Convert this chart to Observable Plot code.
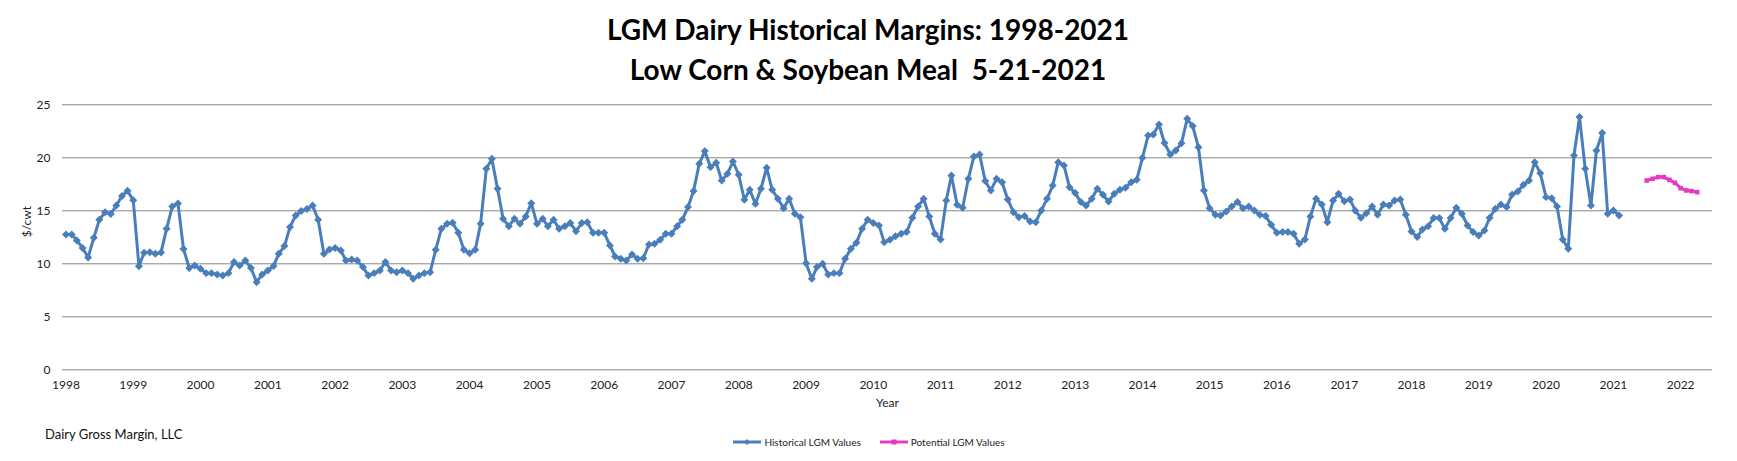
<!DOCTYPE html>
<html>
<head>
<meta charset="utf-8">
<script src="https://cdn.jsdelivr.net/npm/d3@7"></script>
<script src="https://cdn.jsdelivr.net/npm/@observablehq/plot@0.6"></script>
<style>
  html, body { margin: 0; padding: 0; background: #fff; }
  body { width: 1737px; height: 461px; position: relative; overflow: hidden; font-family: Lato, "DejaVu Sans", sans-serif; }
  #title { position: absolute; top: 9px; left: 0; width: 1736px; text-align: center; font-weight: bold; font-size: 28px; line-height: 40px; color: #000; }
  #chart { position: absolute; top: 84px; left: 0; }
  #footer { position: absolute; left: 45px; top: 426px; font-size: 13px; color: #111; }
  #legend { position: absolute; top: 436px; left: 0; width: 1737px; display: flex; justify-content: center; gap: 18px; font-size: 10px; color: #222; padding-left: 0px; }
  .item { display: flex; align-items: center; gap: 2px; }
</style>
</head>
<body>
<div id="title">LGM Dairy Historical Margins: 1998-2021<br>Low Corn &amp; Soybean Meal&nbsp; 5-21-2021</div>
<div id="chart"></div>
<div id="footer">Dairy Gross Margin, LLC</div>
<div id="legend"></div>
<script>
// ---- data ----
const historicalStart = "1998-01-01";
const historical = [
  12.77, 12.77, 12.2, 11.5, 10.6, 12.45, 14.15, 14.87, 14.7, 15.5, 16.4, 16.9,   // 1998
  16.0, 9.78, 11.04, 11.1, 10.94, 11.07, 13.3, 15.4, 15.7, 11.4, 9.6, 9.84,      // 1999
  9.53, 9.12, 9.12, 9.0, 8.9, 9.12, 10.16, 9.84, 10.3, 9.6, 8.27, 9.0,           // 2000
  9.37, 9.8, 10.94, 11.67, 13.46, 14.56, 14.97, 15.16, 15.5, 14.15, 10.94, 11.35, // 2001
  11.5, 11.26, 10.3, 10.4, 10.3, 9.69, 8.9, 9.12, 9.37, 10.16, 9.37, 9.2,        // 2002
  9.37, 9.12, 8.58, 8.9, 9.12, 9.2, 11.32, 13.3, 13.77, 13.87, 12.92, 11.32,     // 2003
  11.0, 11.32, 13.77, 18.96, 19.9, 17.07, 14.25, 13.55, 14.25, 13.77, 14.47, 15.72, // 2004
  13.77, 14.25, 13.55, 14.15, 13.3, 13.55, 13.84, 13.08, 13.84, 13.93, 12.92, 12.92, // 2005
  12.92, 11.73, 10.69, 10.47, 10.31, 10.88, 10.47, 10.53, 11.82, 11.89, 12.26, 12.83, // 2006
  12.83, 13.55, 14.15, 15.35, 16.86, 19.43, 20.63, 19.12, 19.53, 17.86, 18.49, 19.65, // 2007
  18.4, 16.04, 16.98, 15.66, 17.08, 19.06, 16.98, 16.13, 15.25, 16.13, 14.72, 14.4,   // 2008
  10.06, 8.58, 9.69, 10.0, 9.0, 9.12, 9.12, 10.47, 11.42, 11.98, 13.3, 14.15,        // 2009
  13.84, 13.62, 12.04, 12.26, 12.61, 12.83, 12.99, 14.34, 15.41, 16.13, 14.47, 12.83, // 2010
  12.3, 15.97, 18.33, 15.57, 15.28, 18.02, 20.13, 20.31, 17.8, 16.92, 18.02, 17.7,    // 2011
  16.07, 14.87, 14.4, 14.5, 13.99, 13.93, 15.03, 16.13, 17.39, 19.59, 19.28, 17.23,   // 2012
  16.67, 15.82, 15.5, 16.13, 17.08, 16.51, 15.88, 16.6, 16.98, 17.17, 17.7, 17.92,    // 2013
  20.0, 22.1, 22.2, 23.14, 21.4, 20.31, 20.69, 21.38, 23.68, 22.99, 21.0, 16.92,      // 2014
  15.25, 14.62, 14.56, 14.94, 15.41, 15.82, 15.25, 15.41, 15.03, 14.62, 14.5, 13.68,  // 2015
  12.92, 12.99, 12.99, 12.83, 11.89, 12.3, 14.47, 16.13, 15.6, 13.93, 15.97, 16.6,    // 2016
  15.91, 16.07, 15.03, 14.34, 14.78, 15.41, 14.62, 15.6, 15.5, 15.97, 16.07, 14.62,   // 2017
  13.05, 12.52, 13.24, 13.55, 14.31, 14.31, 13.3, 14.31, 15.28, 14.72, 13.62, 12.99,  // 2018
  12.67, 13.14, 14.34, 15.19, 15.6, 15.35, 16.54, 16.82, 17.45, 17.86, 19.59, 18.55,  // 2019
  16.29, 16.19, 15.41, 12.3, 11.42, 20.22, 23.84, 18.96, 15.5, 20.69, 22.33, 14.72,   // 2020
  15.03, 14.56                                                                        // 2021
];
const potentialStart = "2021-07-01";
const potential = [17.86, 18.02, 18.18, 18.18, 17.92, 17.64, 17.14, 16.92, 16.86, 16.76];

const seriesNames = ["Historical LGM Values", "Potential LGM Values"];
const seriesColors = ["#4A7EBB", "#E23CC4"];
const yearTicks = d3.range(1998, 2023);
const yTicks = [0, 5, 10, 15, 20, 25];

// ---- build tables ----
const histData = historical.map((v, i) => ({date: d3.utcMonth.offset(new Date(historicalStart), i), value: v}));
const potData = potential.map((v, i) => ({date: d3.utcMonth.offset(new Date(potentialStart), i), value: v}));
const xTickDates = yearTicks.map(y => new Date(Date.UTC(y, 0, 1)));

const chart = Plot.plot({
  width: 1737,
  height: 337,
  marginLeft: 62,
  marginRight: 25,
  marginTop: 20.3,
  marginBottom: 51.7,
  style: {fontFamily: "Lato, sans-serif", fontSize: "12px", color: "#222", background: "white"},
  x: {type: "utc", domain: [new Date(Date.UTC(1997, 11, 13)), new Date(Date.UTC(2022, 5, 23))]},
  y: {domain: [0, 25]},
  marks: [
    Plot.gridY(yTicks, {stroke: "#868686", strokeOpacity: 1, strokeWidth: 1}),
    Plot.axisY({ticks: yTicks, tickSize: 0, tickPadding: 12, label: null}),
    Plot.axisX({ticks: xTickDates, tickFormat: d => String(d.getUTCFullYear()), tickSize: 0, tickPadding: 11, label: null}),
    Plot.text(["$/cwt"], {frameAnchor: "left", dx: -35, rotate: -90, fontSize: 12, fill: "#222"}),
    Plot.text(["Year"], {frameAnchor: "bottom", dy: 37.5, fontSize: 12, fill: "#222"}),
    Plot.line(histData, {x: "date", y: "value", stroke: seriesColors[0], strokeWidth: 3}),
    Plot.dot(histData, {x: "date", y: "value", symbol: "diamond2", r: 3.6, fill: seriesColors[0], stroke: "none"}),
    Plot.line(potData, {x: "date", y: "value", stroke: seriesColors[1], strokeWidth: 3}),
    Plot.dot(potData, {x: "date", y: "value", symbol: "square", r: 2.6, fill: seriesColors[1], stroke: "none"})
  ]
});
document.getElementById("chart").appendChild(chart);

// ---- legend ----
const legend = document.getElementById("legend");
seriesNames.forEach((name, i) => {
  const item = document.createElement("div");
  item.className = "item";
  const sw = document.createElementNS("http://www.w3.org/2000/svg", "svg");
  sw.setAttribute("width", 30); sw.setAttribute("height", 10);
  const sym = i === 0
    ? `<path d="M15,2 L18,5 L15,8 L12,5 Z" fill="${seriesColors[i]}"/>`
    : `<rect x="12.5" y="2.5" width="5" height="5" fill="${seriesColors[i]}"/>`;
  sw.innerHTML = `<line x1="1" x2="29" y1="5" y2="5" stroke="${seriesColors[i]}" stroke-width="3"/>` + sym;
  const t = document.createElement("span");
  t.textContent = name;
  item.appendChild(sw); item.appendChild(t);
  legend.appendChild(item);
});
</script>
</body>
</html>
